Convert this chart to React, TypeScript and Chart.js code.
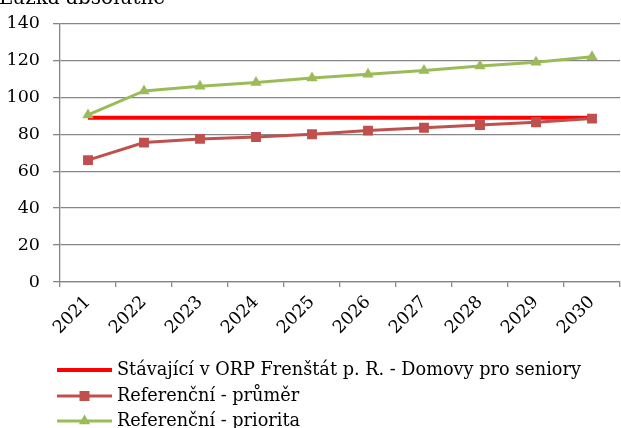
import React, { useEffect, useRef } from "react";
import { Chart, registerables } from "chart.js";

Chart.register(...registerables);

const years = ["2021", "2022", "2023", "2024", "2025", "2026", "2027", "2028", "2029", "2030"];
const stavajici = [89, 89, 89, 89, 89, 89, 89, 89, 89, 89];
const prumer = [66, 75.5, 77.5, 78.5, 80, 82, 83.5, 85, 86.5, 88.5];
const priorita = [90.5, 103.5, 106, 108, 110.5, 112.5, 114.5, 117, 119, 122];
const seriesNames = [
  "Stávající v ORP Frenštát p. R. - Domovy pro seniory",
  "Referenční - průměr",
  "Referenční - priorita",
];
const axisTitle = "Lůžka absolutně";

const FONT = "'DejaVu Serif', serif";
const RED = "#FF0000";
const BROWN = "#C0504D";
const GREEN = "#9BBB59";
const GRID = "#868686";

const legendPlugin = {
  id: "customLegend",
  afterDraw(chart: any) {
    const ctx = chart.ctx;
    ctx.save();
    ctx.font = `20px ${FONT}`;
    ctx.fillStyle = "#000";
    ctx.textAlign = "left";
    ctx.textBaseline = "alphabetic";
    ctx.fillText(axisTitle, -1, 4);

    const rows = [370, 396, 421];
    const x0 = 57;
    const x1 = 112;
    chart.data.datasets.forEach((ds: any, i: number) => {
      const y = rows[i];
      ctx.strokeStyle = ds.borderColor;
      ctx.lineWidth = ds.borderWidth;
      ctx.beginPath();
      ctx.moveTo(x0, y);
      ctx.lineTo(x1, y);
      ctx.stroke();
      const cx = (x0 + x1) / 2;
      ctx.fillStyle = ds.pointBackgroundColor;
      if (ds.pointStyle === "rect") {
        ctx.fillRect(cx - 5, y - 5, 10, 10);
      } else if (ds.pointStyle === "triangle") {
        const r = 6.5;
        ctx.beginPath();
        ctx.moveTo(cx, y - r);
        ctx.lineTo(cx + r * 0.866, y + r / 2);
        ctx.lineTo(cx - r * 0.866, y + r / 2);
        ctx.closePath();
        ctx.fill();
      }
      ctx.fillStyle = "#000";
      ctx.font = `17.7px ${FONT}`;
      ctx.textBaseline = "middle";
      ctx.fillText(ds.label, 117, y);
    });
    ctx.restore();
  },
};

export default function App() {
  const ref = useRef<HTMLCanvasElement | null>(null);
  useEffect(() => {
    if (!ref.current) return;
    Chart.defaults.font.family = FONT;
    const chart = new Chart(ref.current, {
      type: "line",
      data: {
        labels: years,
        datasets: [
          {
            label: seriesNames[0],
            data: stavajici,
            borderColor: RED,
            backgroundColor: RED,
            pointBackgroundColor: RED,
            borderWidth: 4,
            pointRadius: 0,
            pointStyle: "line",
            order: 3,
          },
          {
            label: seriesNames[1],
            data: prumer,
            borderColor: BROWN,
            backgroundColor: BROWN,
            pointBackgroundColor: BROWN,
            pointBorderColor: BROWN,
            borderWidth: 3,
            pointRadius: 7,
            pointBorderWidth: 0,
            pointStyle: "rect",
            order: 2,
          },
          {
            label: seriesNames[2],
            data: priorita,
            borderColor: GREEN,
            backgroundColor: GREEN,
            pointBackgroundColor: GREEN,
            pointBorderColor: GREEN,
            borderWidth: 3,
            pointRadius: 6.5,
            pointBorderWidth: 0,
            pointStyle: "triangle",
            order: 1,
          },
        ],
      },
      options: {
        animation: false,
        responsive: false,
        layout: { padding: { top: 22, left: 0, right: 0, bottom: 0 } },
        plugins: { legend: { display: false }, tooltip: { enabled: false }, title: { display: false } },
        scales: {
          x: {
            type: "category",
            offset: true,
            grid: { display: true, drawOnChartArea: false, drawTicks: true, tickLength: 5, color: GRID, offset: true, lineWidth: 1.3 },
            border: { display: true, color: GRID, width: 1.3 },
            ticks: {
              color: "#000",
              font: { size: 17.5, family: FONT },
              minRotation: 45,
              maxRotation: 45,
              autoSkip: false,
              padding: 5,
            },
            afterFit: (scale: any) => {
              scale.height = 146;
            },
          },
          y: {
            min: 0,
            max: 140,
            ticks: { stepSize: 20, color: "#000", font: { size: 17.5, family: FONT }, padding: 13 },
            grid: { color: GRID, lineWidth: 1.3, tickLength: 7, drawTicks: true },
            border: { display: true, color: GRID, width: 1.3 },
            afterFit: (scale: any) => {
              scale.width = 60;
            },
          },
        },
      },
      plugins: [legendPlugin],
    });
    return () => chart.destroy();
  }, []);
  return (
    <div style={{ position: "absolute", left: 0, top: 0, width: 621, height: 428, overflow: "hidden", background: "#fff" }}>
      <canvas ref={ref} width={627} height={428} style={{ display: "block" }} />
    </div>
  );
}
